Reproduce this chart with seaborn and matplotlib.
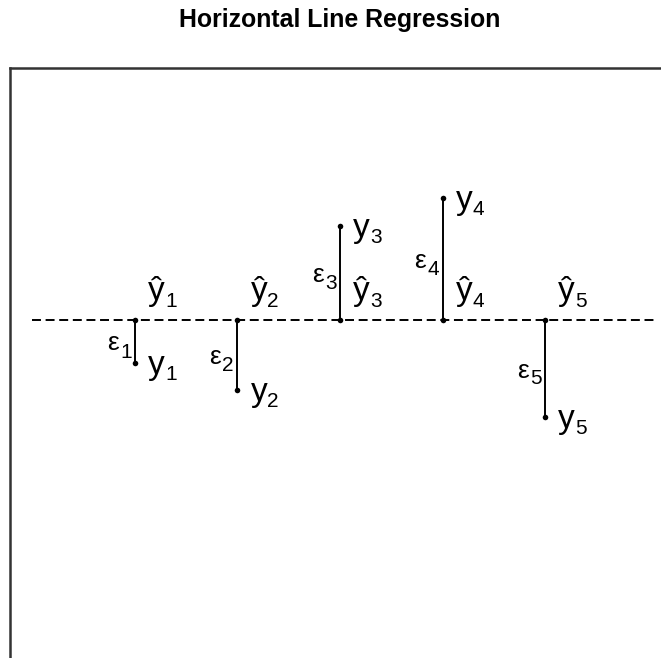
import matplotlib
matplotlib.use("Agg")
import matplotlib.pyplot as plt
import seaborn as sns
import pandas as pd

# data
x_vals = [1, 2, 3, 4, 5]
y_vals = [-0.43, -0.70, 0.94, 1.22, -0.97]
line_level = 0.0
subscripts = ["1", "2", "3", "4", "5"]
obs_symbol = "y"
fit_symbol = "\u0177"
eps_symbol = "\u03b5"
title = "Horizontal Line Regression"

sns.set_theme(style="white")
plt.rcParams["font.family"] = ["Liberation Sans", "DejaVu Sans"]

W, H = 661, 658
fig = plt.figure(figsize=(W / 100, H / 100), dpi=100)
ax = fig.add_axes([10 / W, (H - 670) / H, 660 / W, (670 - 68) / H])

ax.set_xlim(-0.2195, 6.2195)
ax.set_ylim(-3.5, 2.52)

df_obs = pd.DataFrame({"x": x_vals, "y": y_vals})
df_fit = pd.DataFrame({"x": x_vals, "y": [line_level] * len(x_vals)})

# dashed fitted line
ax.plot([0, 6.07], [line_level, line_level], color="black", lw=1.4,
        linestyle=(0, (4.6, 2.4)), zorder=1)

# residual segments
ax.vlines(x_vals, [line_level] * len(x_vals), y_vals, color="black", lw=1.4, zorder=2)

sns.scatterplot(data=df_obs, x="x", y="y", ax=ax, color="black", s=16,
                edgecolor="black", linewidth=0, zorder=3, legend=False)
sns.scatterplot(data=df_fit, x="x", y="y", ax=ax, color="black", s=16,
                edgecolor="black", linewidth=0, zorder=3, legend=False)

PT = 0.72  # points per pixel at 100 dpi


def put(txt, xy, dx_px, dy_px, size, ha="left", va="baseline"):
    ax.annotate(txt, xy, xytext=(dx_px * PT, -dy_px * PT), textcoords="offset points",
                ha=ha, va=va, fontsize=size, color="black")


MAIN = 24
SUB = 15
EPS = 19
for xi, yi, s in zip(x_vals, y_vals, subscripts):
    # observed label
    put(obs_symbol, (xi, yi), 13, 11, MAIN)
    put(s, (xi, yi), 30, 17, SUB)
    # fitted label (y with hat)
    put(fit_symbol, (xi, line_level), 13, -20, MAIN)
    put(s, (xi, line_level), 30, -13, SUB)
    # residual label
    mid = (yi + line_level) / 2
    put(eps_symbol, (xi, mid), -28, 9, EPS)
    put(s, (xi, mid), -15, 16, SUB)

ax.set_xticks([])
ax.set_yticks([])
ax.set_xlabel("")
ax.set_ylabel("")
for sp in ax.spines.values():
    sp.set_visible(True)
    sp.set_color("#333333")
    sp.set_linewidth(1.8)

fig.text(340 / W, 1 - 20 / H, title, ha="center", va="center",
         fontsize=17.9, fontweight="bold", color="black")

fig.savefig("out.png", dpi=100)
